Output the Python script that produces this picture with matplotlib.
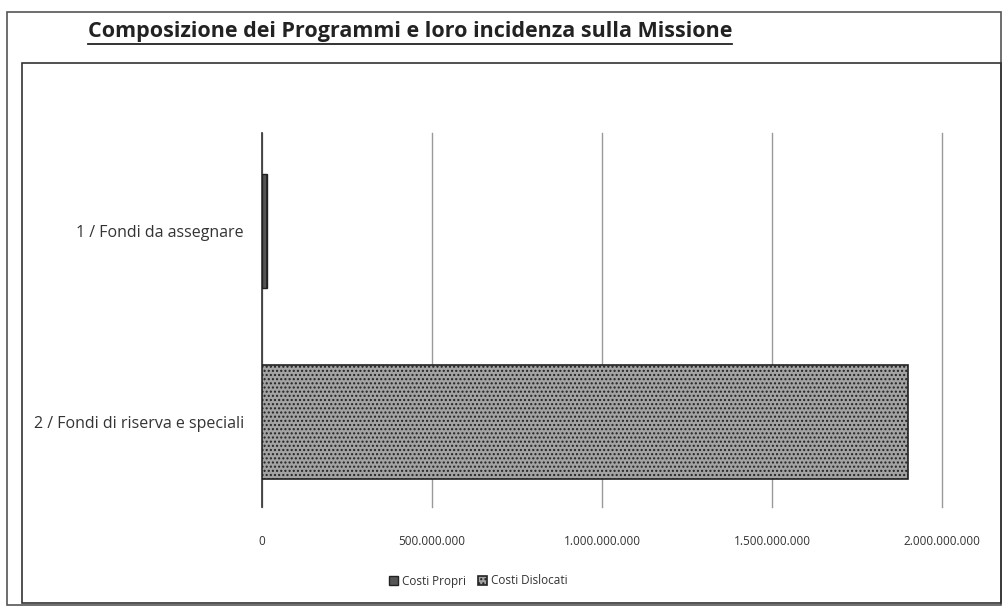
import matplotlib.pyplot as plt
from matplotlib.patches import Rectangle
from matplotlib.lines import Line2D
from matplotlib.ticker import FuncFormatter

# programmi della missione (dall'alto verso il basso)
programmi = ['1 / Fondi da assegnare', '2 / Fondi di riserva e speciali']
costi_propri = [14000000, 0]
costi_dislocati = [0, 1900000000]
tick_vals = [0, 500000000, 1000000000, 1500000000, 2000000000]

plt.rcParams['font.family'] = ['Open Sans', 'DejaVu Sans']
plt.rcParams['hatch.color'] = '#8a8a8a'

fig = plt.figure(figsize=(10.04, 6.15), dpi=100)
W, H = 1004, 615

# cornici esterna e interna
fig.patches.append(Rectangle((7 / W, 1 - 605 / H), 994 / W, 593 / H, transform=fig.transFigure,
                             fill=False, edgecolor='#555555', linewidth=1.2))
fig.patches.append(Rectangle((22 / W, 1 - 603 / H), 979 / W, 540 / H, transform=fig.transFigure,
                             fill=False, edgecolor='#333333', linewidth=1.2))

ax = fig.add_axes([262 / W, 1 - 507 / H, 680 / W, 374 / H])

y = list(range(len(programmi)))
ax.barh(y, costi_propri, height=0.60, color='#555555', edgecolor='#222222', linewidth=1,
        label='Costi Propri', zorder=3)
ax.barh(y, costi_dislocati, left=costi_propri, height=0.60, color='#a3a3a3', edgecolor='#222222',
        linewidth=1.2, hatch='....', label='Costi Dislocati', zorder=3)

ax.set_ylim(1.445, -0.513)
ax.set_xlim(0, 2000000000)
ax.set_yticks(y)
ax.set_yticklabels(programmi, fontsize=11.5, color='#333333')
ax.set_xticks(tick_vals)
ax.xaxis.set_major_formatter(FuncFormatter(lambda v, p: '{:,.0f}'.format(v).replace(',', '.')))
ax.tick_params(axis='x', labelsize=8.5, colors='#333333', length=0, pad=20)
ax.tick_params(axis='y', length=0, pad=13)
ax.grid(axis='x', color='#999999', linewidth=1, zorder=0)
for gl in ax.get_xgridlines():
    gl.set_clip_on(False)
for s in ['top', 'right', 'bottom']:
    ax.spines[s].set_visible(False)
ax.spines['left'].set_color('#333333')
ax.spines['left'].set_linewidth(1.2)

leg = fig.legend(loc='center', bbox_to_anchor=(478 / W, 1 - 581 / H), ncol=2, frameon=False,
                 fontsize=8.5, handlelength=0.8, handleheight=0.8, handletextpad=0.3, columnspacing=1.0)
for t in leg.get_texts():
    t.set_color('#333333')

title = fig.text(88 / W, 1 - 32 / H, 'Composizione dei Programmi e loro incidenza sulla Missione',
                 fontsize=15.5, fontweight='bold', color='#222222', va='center', ha='left')
fig.canvas.draw()
bb = title.get_window_extent().transformed(fig.transFigure.inverted())
fig.lines.append(Line2D([bb.x0, bb.x1], [bb.y0 - 0.002, bb.y0 - 0.002], transform=fig.transFigure,
                        color='#222222', linewidth=1.3))

fig.savefig('out.png', dpi=100)
